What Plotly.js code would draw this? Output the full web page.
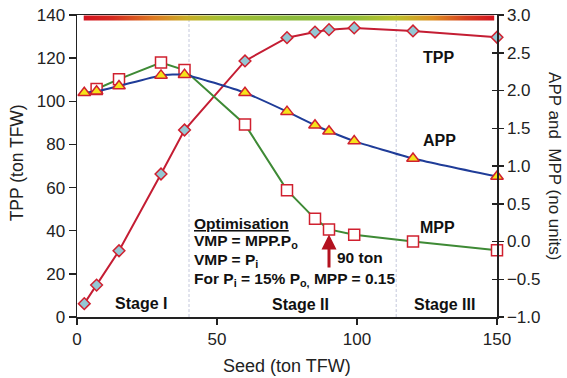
<!DOCTYPE html>
<html>
<head>
<meta charset="utf-8">
<script src="https://cdn.plot.ly/plotly-3.0.1.min.js"></script>
<style>
  html, body { margin: 0; padding: 0; background: #fff; }
  #chart { width: 567px; height: 378px; }
</style>
</head>
<body>
<div id="chart"></div>
<script>
// ---- data ----
const seed    = [2.6, 7, 15, 30, 38.4, 60, 75, 85, 90, 99, 120, 150];
const tpp     = [6.2, 14.8, 30.7, 66.3, 86.7, 118.7, 129.5, 132.1, 133.2, 134.0, 132.6, 129.7];
const app     = [1.97, 1.99, 2.06, 2.20, 2.21, 1.97, 1.72, 1.54, 1.46, 1.33, 1.10, 0.86];
const seedMpp = [7, 15, 30, 38.4, 60, 75, 85, 90, 99, 120, 150];
const mpp     = [2.02, 2.15, 2.37, 2.27, 1.55, 0.68, 0.30, 0.16, 0.09, 0.00, -0.115];
const stageBounds = [40, 114];
const optimalSeed = 90;
const xTicks  = [0, 50, 100, 150];
const yTicks  = [0, 20, 40, 60, 80, 100, 120, 140];
const y2Ticks = [-1.0, -0.5, 0.0, 0.5, 1.0, 1.5, 2.0, 2.5, 3.0];

const FONT = '"Liberation Sans", Arial, Helvetica, sans-serif';
const RED_EDGE = '#d0202f';

// gradient bar along the top (decoration)
const bar = {x0: 2.4, x1: 149, y0: 137.4, y1: 139.8};
const barTrace = {
  type: 'scatter', mode: 'lines',
  x: [bar.x0, bar.x1, bar.x1, bar.x0, bar.x0],
  y: [bar.y0, bar.y0, bar.y1, bar.y1, bar.y0],
  fill: 'toself', line: {width: 0, color: 'rgba(0,0,0,0)'},
  fillgradient: {
    type: 'horizontal',
    colorscale: [
      [0.00, '#d3121f'], [0.07, '#d52a1f'], [0.17, '#de7a22'],
      [0.25, '#c9ad27'], [0.33, '#a5c033'], [0.50, '#8cbb3c'],
      [0.66, '#92bd38'], [0.76, '#bcc22b'], [0.85, '#de8f22'],
      [0.93, '#d6401f'], [1.00, '#d3121f']
    ]
  },
  hoverinfo: 'skip', showlegend: false
};

const tppTrace = {
  type: 'scatter', mode: 'lines+markers', x: seed, y: tpp, yaxis: 'y',
  line: {color: '#c41d33', width: 2},
  marker: {symbol: 'diamond', size: 9, color: '#94c8d4', line: {color: RED_EDGE, width: 1.5}},
  cliponaxis: false, showlegend: false
};
const appTrace = {
  type: 'scatter', mode: 'lines+markers', x: seed, y: app, yaxis: 'y2',
  line: {color: '#1f3c98', width: 2, shape: 'spline', smoothing: 0.5},
  marker: {symbol: 'triangle-up', size: 11, color: '#f6e31a', line: {color: RED_EDGE, width: 1.5}},
  cliponaxis: false, showlegend: false
};
const mppTrace = {
  type: 'scatter', mode: 'lines+markers', x: seedMpp, y: mpp, yaxis: 'y2',
  line: {color: '#3e8a35', width: 2},
  marker: {symbol: 'square', size: 11, color: '#ffffff', line: {color: RED_EDGE, width: 1.5}},
  cliponaxis: false, showlegend: false
};
// invisible trace to host the inner tick marks of the right axis
const tickHost = {type: 'scatter', mode: 'markers', x: [0], y: [-1], yaxis: 'y3',
  marker: {opacity: 0}, hoverinfo: 'skip', showlegend: false};

const bold = (t, x, y, extra) => Object.assign({
  text: '<b>' + t + '</b>', x: x, y: y, xref: 'x', yref: 'y',
  showarrow: false, font: {family: FONT, size: 16, color: '#111'},
  xanchor: 'center', yanchor: 'middle'
}, extra || {});
const small = {xanchor: 'left', font: {family: FONT, size: 15.5, color: '#111'}};

const annotations = [
  bold('TPP', 129.1, 120.4),
  bold('APP', 129.3, 81.6),
  bold('MPP', 128.9, 41.3),
  bold('Stage I', 23, 6.4),
  bold('Stage II', 79.7, 5.8),
  bold('Stage III', 131.4, 6.0),
  bold('<u>Optimisation</u>', 41, 43.3, small),
  bold('VMP = MPP.P<sub>o</sub>', 41, 35.0, small),
  bold('VMP = P<sub>i</sub>', 41, 26.4, small),
  bold('For P<sub>i</sub> = 15% P<sub>o,</sub> MPP = 0.15', 41, 17.6, small),
  bold('90 ton', 92.3, 27.8, small),
  {x: optimalSeed, y: 38.3, ax: optimalSeed, ay: 22.3, xref: 'x', yref: 'y', axref: 'x', ayref: 'y',
   text: '', showarrow: true, arrowhead: 2, arrowsize: 1, arrowwidth: 3, arrowcolor: '#b3121f', standoff: 0},
  {text: 'TPP (ton TFW)', xref: 'paper', yref: 'paper', x: -0.142, y: 0.51, textangle: -90,
   showarrow: false, xanchor: 'center', yanchor: 'middle', font: {family: FONT, size: 17.5, color: '#222'}},
  {text: 'APP and  MPP (no units)', xref: 'paper', yref: 'paper', x: 1.138, y: 0.5, textangle: 90,
   showarrow: false, xanchor: 'center', yanchor: 'middle', font: {family: FONT, size: 17, color: '#222'}},
  {text: 'Seed (ton TFW)', xref: 'paper', yref: 'paper', x: 0.5, y: -0.162,
   showarrow: false, xanchor: 'center', yanchor: 'middle', font: {family: FONT, size: 18, color: '#222'}}
];

const shapes = stageBounds.map(v => ({
  type: 'line', xref: 'x', yref: 'paper', x0: v, x1: v, y0: 0, y1: 1, layer: 'below',
  line: {color: '#c4c8dc', width: 1, dash: '3px,2px'}
}));

const layout = {
  width: 567, height: 378,
  margin: {l: 77, r: 70, t: 15, b: 61, pad: 0},
  paper_bgcolor: '#fff', plot_bgcolor: '#fff',
  font: {family: FONT, size: 17, color: '#222'},
  showlegend: false,
  xaxis: {range: [0, 150], tickvals: xTicks, ticks: 'outside', ticklen: 6, tickwidth: 1.5,
    tickcolor: '#222', showline: true, linecolor: '#222', linewidth: 1.5, mirror: true,
    showgrid: false, zeroline: false, tickfont: {size: 17}},
  yaxis: {range: [0, 140], tickvals: yTicks, ticks: 'outside', ticklen: 7, tickwidth: 1.5,
    tickcolor: '#222', showline: true, linecolor: '#222', linewidth: 1.5,
    showgrid: false, zeroline: false, tickfont: {size: 17}},
  yaxis2: {range: [-1, 3], tickvals: y2Ticks, tickformat: '.1f', overlaying: 'y', side: 'right',
    ticks: 'outside', ticklen: 5, tickwidth: 1.5, tickcolor: '#222', showline: true,
    linecolor: '#222', linewidth: 1.5, showgrid: false, zeroline: false, tickfont: {size: 17}},
  yaxis3: {range: [-1, 3], tickvals: y2Ticks, overlaying: 'y', side: 'right',
    ticks: 'inside', ticklen: 5, tickwidth: 1.5, tickcolor: '#222', showline: false,
    showticklabels: false, showgrid: false, zeroline: false},
  annotations: annotations,
  shapes: shapes
};

Plotly.newPlot('chart', [barTrace, tppTrace, mppTrace, appTrace, tickHost], layout,
  {displayModeBar: false, staticPlot: true});
</script>
</body>
</html>
